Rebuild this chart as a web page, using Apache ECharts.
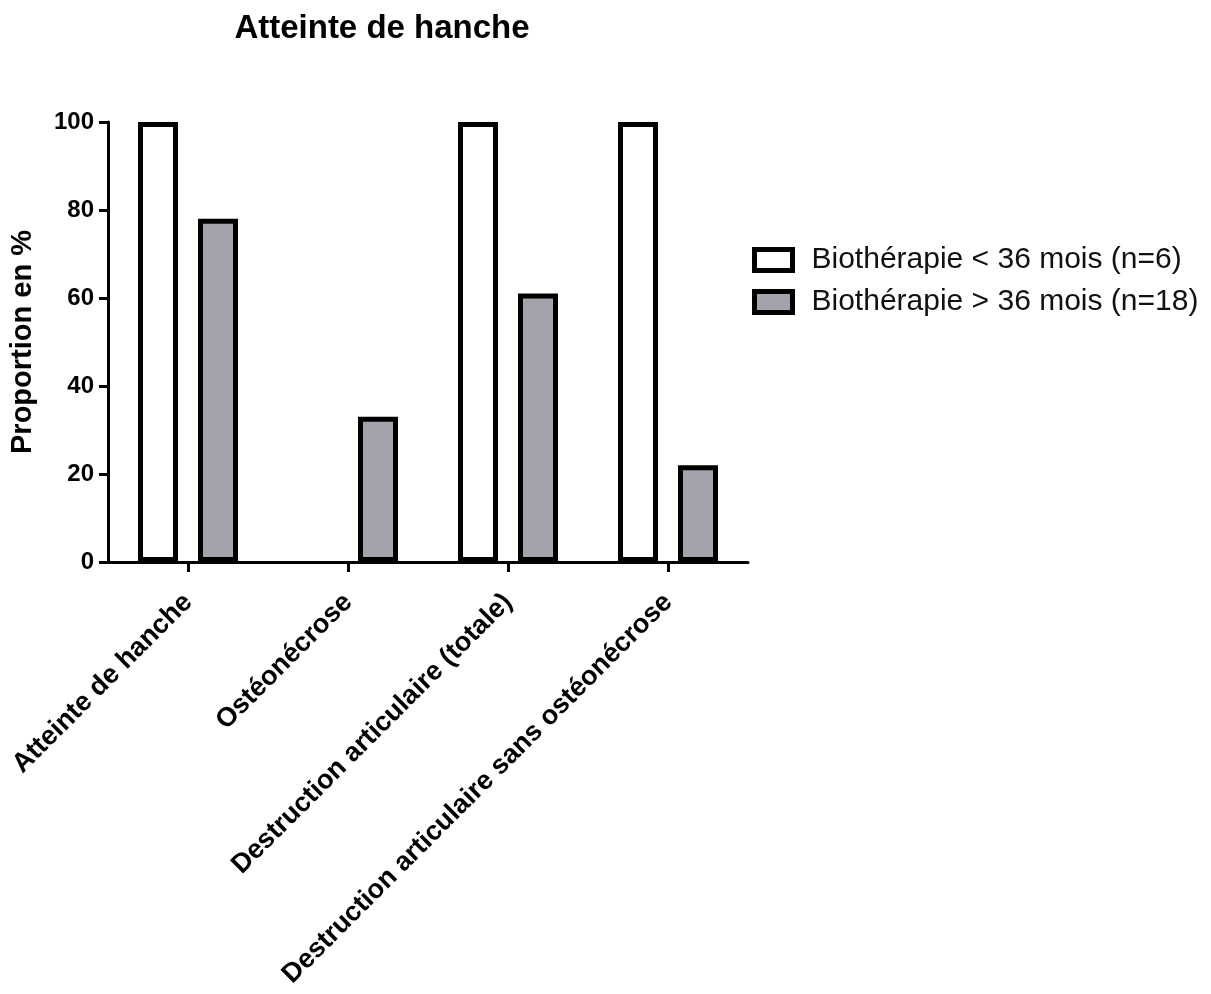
<!DOCTYPE html>
<html><head><meta charset="utf-8">
<script src="https://cdn.jsdelivr.net/npm/echarts@6/dist/echarts.min.js"></script>
<style>html,body{margin:0;padding:0;background:#fff}#c{width:1211px;height:994px}</style>
</head><body><div id="c"></div>
<script>
const categories = ['Atteinte de hanche', 'Ostéonécrose', 'Destruction articulaire (totale)', 'Destruction articulaire sans ostéonécrose'];
const seriesNames = ['Biothérapie < 36 mois (n=6)', 'Biothérapie > 36 mois (n=18)'];
const valuesShort = [100, 0, 100, 100];
const valuesLong = [78, 33, 61, 22];
const yTicks = [0, 20, 40, 60, 80, 100];

const F = '"Liberation Sans", Arial, sans-serif';
const GREY = '#a3a3ab';
function toData(arr) {
  return arr.map(v => v === 0 ? {value: v, itemStyle: {borderWidth: 0}} : v);
}
const chart = echarts.init(document.getElementById('c'), null, {renderer: 'canvas'});
chart.setOption({
  animation: false,
  title: {
    text: 'Atteinte de hanche', left: 377, top: 7, textAlign: 'center',
    textStyle: {fontFamily: F, fontWeight: 'bold', fontSize: 33, color: '#000'}
  },
  legend: {
    orient: 'vertical', left: 747, top: 240, itemWidth: 38, itemHeight: 21, itemGap: 12,
    textStyle: {fontFamily: F, fontSize: 30, color: '#111', padding: [0, 0, 0, 14]},
    data: seriesNames.map((n, i) => ({name: n, icon: 'rect',
      itemStyle: {color: i === 0 ? '#fff' : GREY, borderColor: '#000', borderWidth: 5}}))
  },
  grid: {left: 108, right: 463, top: 122, bottom: 432, containLabel: false, outerBoundsMode: 'none'},
  xAxis: {
    type: 'category', data: categories,
    axisLine: {lineStyle: {color: '#000', width: 3}},
    axisTick: {show: true, alignWithLabel: true, length: 10, lineStyle: {color: '#000', width: 3}},
    axisLabel: {rotate: 45, margin: 36, fontFamily: F, fontWeight: 'bold', fontSize: 27, color: '#000', interval: 0}
  },
  yAxis: {
    type: 'value', min: 0, max: 100, interval: 20,
    name: 'Proportion en %', nameLocation: 'middle', nameGap: 71, nameRotate: 90,
    nameTextStyle: {fontFamily: F, fontWeight: 'bold', fontSize: 29, color: '#000'},
    splitLine: {show: false},
    axisLine: {show: true, lineStyle: {color: '#000', width: 3}},
    axisTick: {show: true, length: 9, lineStyle: {color: '#000', width: 3}},
    axisLabel: {fontFamily: F, fontWeight: 'bold', fontSize: 24, color: '#000', margin: 14,
      formatter: v => yTicks.includes(v) ? String(v) : ''}
  },
  series: [
    {name: seriesNames[0], type: 'bar', data: toData(valuesShort), barWidth: 40, barGap: '50%',
     itemStyle: {color: '#fff', borderColor: '#000', borderWidth: 5}},
    {name: seriesNames[1], type: 'bar', data: toData(valuesLong), barWidth: 40,
     itemStyle: {color: GREY, borderColor: '#000', borderWidth: 5}}
  ]
});
</script></body></html>
